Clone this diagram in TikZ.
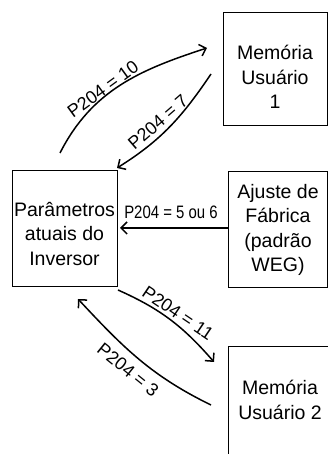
\documentclass[tikz,border=0pt]{standalone}
\usepackage{fontspec}
\setmainfont{Liberation Sans}
\usetikzlibrary{arrows.meta}
\begin{document}
\begin{tikzpicture}[x=1pt,y=1pt,
 box/.style={draw, line width=1pt, inner sep=0pt},
 boxtext/.style={align=center, font=\fontsize{19.5}{24.5}\selectfont, inner sep=0pt},
 conn/.style={line width=1.5pt, -{Straight Barb[length=6pt,width=12pt]}},
 lbl/.style={font=\fontsize{18}{20}\selectfont, inner sep=0pt}]
\useasboundingbox (0,0) rectangle (328,454);
\clip (0,0) rectangle (328,454);
% boxes
\node[box, minimum width=104pt, minimum height=113pt] (m1) at (275,384.5) {};
\node[boxtext] (m1t) at (275,377) {Memória\\Usuário\\1};
\node[box, minimum width=105pt, minimum height=116pt] (par) at (64.5,225) {};
\node[boxtext] (part) at (64.5,220) {Parâmetros\\atuais do\\Inversor};
\node[box, minimum width=99pt, minimum height=116pt] (aj) at (277.5,224) {};
\node[boxtext] (ajt) at (278,224) {Ajuste de\\Fábrica\\(padrão\\WEG)};
\node[box, minimum width=104pt, minimum height=109pt] (m2) at (280,52.5) {};
\node[boxtext] (m2t) at (280,54) {Memória\\Usuário 2};
% connector end points
\coordinate (a10s) at (60,301);
\coordinate (a10e) at (207,406);
\coordinate (a7s) at (211,380);
\coordinate (a7e) at (117,286);
\coordinate (a56e) at (120,226);
\coordinate (a11s) at (118,164);
\coordinate (a11e) at (214,92);
\coordinate (a3s) at (211,49);
\coordinate (a3e) at (78,155);
% connectors
\draw[conn] (a10s) to[out=63,in=198] (a10e);
\draw[conn] (a7s) to[out=236,in=32] (a7e);
\draw[conn] (aj.west |- a56e) -- (a56e);
\draw[conn] (a11s) to[out=-24,in=131] (a11e);
\draw[conn] (a3s) to[out=154,in=-47] (a3e);
% labels
\node[lbl, rotate=36] (l10) at (103,365) {P204 = 10};
\node[lbl, rotate=41] (l7) at (158,332) {P204 = 7};
\node[lbl] (l56) at (171,242) {\scalebox{0.83}[1]{P204 = 5 ou 6}};
\node[lbl, rotate=-34] (l11) at (178,141) {P204 = 11};
\node[lbl, rotate=-39] (l3) at (128,84) {P204 = 3};
\end{tikzpicture}
\end{document}
